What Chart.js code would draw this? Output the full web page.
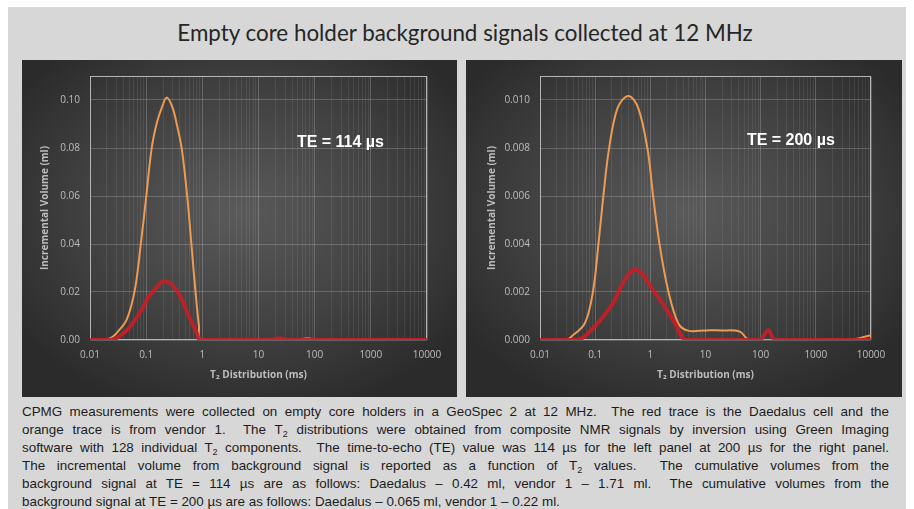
<!DOCTYPE html>
<html>
<head>
<meta charset="utf-8">
<script src="https://cdn.jsdelivr.net/npm/chart.js"></script>
<style>
  html, body { margin: 0; padding: 0; background: #fff; }
  body { width: 914px; height: 509px; position: relative; overflow: hidden; }
  #slide { position: absolute; left: 8px; top: 7px; width: 898px; height: 502px; background: #d7d7d7; }
  #title { position: absolute; left: 0; top: 20px; width: 930px; text-align: center; white-space: nowrap;
           font-family: Lato, sans-serif; font-size: 22.4px; line-height: 26px; color: #262626; }
  .panel { position: absolute; top: 60px; height: 337px;
           background: radial-gradient(ellipse 62% 62% at 50% 45%, #5a5a5a 0%, #424242 55%, #2b2b2b 100%); }
  #leftPanel { left: 22px; width: 435px; }
  #rightPanel { left: 466px; width: 436px; }
  #caption { position: absolute; left: 22px; top: 403px; width: 867px;
             font-family: "Liberation Sans", Arial, sans-serif; font-size: 13.4px; line-height: 18px; color: #1c1c1c; }
  #caption div { text-align: justify; text-align-last: justify; }
  #caption div.last { text-align-last: left; }
  #caption sub { font-size: 9px; vertical-align: -3px; line-height: 0; }
</style>
</head>
<body>
<div id="slide"></div>
<div id="title">Empty core holder background signals collected at 12 MHz</div>
<div class="panel" id="leftPanel"><canvas id="leftChart" width="435" height="337"></canvas></div>
<div class="panel" id="rightPanel"><canvas id="rightChart" width="436" height="337"></canvas></div>
<div id="caption">
  <div>CPMG measurements were collected on empty core holders in a GeoSpec 2 at 12 MHz.&nbsp; The red trace is the Daedalus cell and the</div>
  <div>orange trace is from vendor 1.&nbsp; The T<sub>2</sub> distributions were obtained from composite NMR signals by inversion using Green Imaging</div>
  <div>software with 128 individual T<sub>2</sub> components.&nbsp; The time-to-echo (TE) value was 114 µs for the left panel at 200 µs for the right panel.</div>
  <div>The incremental volume from background signal is reported as a function of T<sub>2</sub> values.&nbsp; The cumulative volumes from the</div>
  <div>background signal at TE = 114 µs are as follows: Daedalus – 0.42 ml, vendor 1 – 1.71 ml.&nbsp; The cumulative volumes from the</div>
  <div class="last">background signal at TE = 200 µs are as follows: Daedalus – 0.065 ml, vendor 1 – 0.22 ml.</div>
</div>
<script>
// T2 axis decades (labelled ticks)
var t2Ticks = [0.01, 0.1, 1, 10, 100, 1000, 10000];

// TE = 114 us panel
var leftRedT2 = [0.01, 0.023, 0.03, 0.045, 0.063, 0.085, 0.11, 0.155, 0.2, 0.26, 0.33, 0.42, 0.53, 0.66, 0.8, 0.92, 16, 24, 34, 10000];
var leftRedVol = [0, 0, 0.0008, 0.004, 0.0083, 0.013, 0.018, 0.022, 0.0245, 0.0238, 0.0215, 0.0175, 0.012, 0.007, 0.0028, 0, 0, 0.0007, 0, 0];
var leftOrangeT2 = [0.01, 0.018, 0.024, 0.03, 0.045, 0.063, 0.08, 0.1, 0.125, 0.155, 0.19, 0.232, 0.295, 0.35, 0.43, 0.54, 0.64, 0.75, 0.87, 0.97, 50, 68, 82, 100, 10000];
var leftOrangeVol = [0, 0, 0.001, 0.003, 0.0085, 0.021, 0.0397, 0.0595, 0.0797, 0.0905, 0.0968, 0.101, 0.0968, 0.09, 0.0797, 0.0595, 0.0397, 0.021, 0.006, 0, 0, 0.0006, 0.0006, 0, 0];

// TE = 200 us panel
var rightRedT2 = [0.01, 0.04, 0.06, 0.11, 0.21, 0.34, 0.525, 0.8, 1.1, 1.7, 2.8, 4.5, 95, 137, 185, 10000];
var rightRedVol = [0, 0, 0.0001, 0.00069, 0.00153, 0.00249, 0.00295, 0.0026, 0.0021, 0.0015, 0.0007, 0, 0, 0.00041, 0, 0];
var rightOrangeT2 = [0.01, 0.03, 0.037, 0.065, 0.092, 0.114, 0.14, 0.178, 0.256, 0.4, 0.6, 0.89, 1.13, 1.48, 2.1, 3.2, 4.8, 10, 20, 42, 63, 3800, 10000];
var rightOrangeVol = [0, 0, 0.00014, 0.0007, 0.00207, 0.00394, 0.00595, 0.00795, 0.00968, 0.01017, 0.00968, 0.00795, 0.00595, 0.00394, 0.00207, 0.0007, 0.00039, 0.0004, 0.0004, 0.00035, 0, 0, 0.0002];

Chart.defaults.font.family = '"Open Sans", sans-serif';
Chart.defaults.color = '#bdbdbd';

function toPoints(xs, ys) {
  return xs.map(function (x, i) {
    return { x: x, y: ys[i] };
  });
}

// plot frame + TE label
var panelDecor = {
  id: 'panelDecor',
  beforeDatasetsDraw: function (chart) {
    var a = chart.chartArea;
    var ctx = chart.ctx;
    ctx.save();
    ctx.strokeStyle = '#b5b5b5';
    ctx.lineWidth = 1;
    ctx.strokeRect(a.left + 0.5, a.top + 0.5, a.width - 1, a.height - 1);
    ctx.restore();
  },
  afterDraw: function (chart, args, opts) {
    var a = chart.chartArea;
    var ctx = chart.ctx;
    ctx.save();
    ctx.fillStyle = '#ffffff';
    ctx.font = 'bold 16px "Liberation Sans", Arial';
    ctx.textBaseline = 'middle';
    ctx.fillText(opts.text, a.left + a.width * opts.fx, a.top + a.height * opts.fy);
    ctx.restore();
  }
};

function createT2Chart(context, cfg) {
  new Chart(context, {
    type: 'line',
    plugins: [panelDecor],
    data: {
      datasets: [{
        label: 'Daedalus',
        data: toPoints(cfg.redT2, cfg.redVol),
        borderColor: 'rgba(198, 30, 38, 0.92)',
        borderWidth: 4,
        pointRadius: 0,
        tension: 0.35,
      }, {
        label: 'Vendor 1',
        data: toPoints(cfg.orangeT2, cfg.orangeVol),
        borderColor: '#ee9a52',
        borderWidth: 2,
        pointRadius: 0,
        tension: 0.35,
      }],
    },
    options: {
      responsive: false,
      animation: false,
      layout: { padding: { top: 15, right: cfg.padRight, bottom: 10, left: 0 } },
      plugins: {
        legend: { display: false },
        tooltip: { enabled: false },
        panelDecor: { text: cfg.teText, fx: cfg.fx, fy: cfg.fy },
      },
      scales: {
        x: {
          type: 'logarithmic',
          min: 0.01,
          max: 10000,
          afterBuildTicks: function (scale) {
            var vals = [];
            t2Ticks.forEach(function (d, i) {
              vals.push(d);
              if (i < t2Ticks.length - 1) {
                for (var k = 2; k < 10; k++) vals.push(+(d * k).toPrecision(3));
              }
            });
            scale.ticks = vals.map(function (v) { return { value: v }; });
          },
          afterFit: function (scale) { scale.height = 47; },
          grid: {
            drawTicks: false,
            color: function (c) {
              return t2Ticks.indexOf(c.tick.value) >= 0 ? 'rgba(255,255,255,0.2)' : 'rgba(255,255,255,0.08)';
            },
          },
          border: { display: false },
          ticks: {
            autoSkip: false,
            maxRotation: 0,
            padding: 9,
            font: { size: 10 },
            callback: function (value) {
              return t2Ticks.indexOf(value) >= 0 ? String(value) : '';
            },
          },
          title: {
            display: true,
            text: 'T₂ Distribution (ms)',
            font: { size: 10, weight: 'bold' },
            padding: { top: 4, bottom: 6 },
          },
        },
        y: {
          min: 0,
          max: cfg.yMax,
          afterFit: function (scale) { scale.width = cfg.yWidth; },
          grid: { drawTicks: false, color: 'rgba(255,255,255,0.2)' },
          border: { display: false },
          ticks: {
            stepSize: cfg.yStep,
            includeBounds: false,
            padding: 10,
            font: { size: 10 },
            callback: function (value) { return value.toFixed(cfg.digits); },
          },
          title: {
            display: true,
            text: 'Incremental Volume (ml)',
            font: { size: 10, weight: 'bold' },
            padding: { top: cfg.titlePad, bottom: 2 },
          },
        },
      },
    },
  });
}

createT2Chart(document.getElementById('leftChart'), {
  redT2: leftRedT2, redVol: leftRedVol,
  orangeT2: leftOrangeT2, orangeVol: leftOrangeVol,
  yMax: 0.11, yStep: 0.02, digits: 2,
  yWidth: 68, titlePad: 17, padRight: 30,
  teText: 'TE = 114 µs', fx: 0.614, fy: 0.253,
});

createT2Chart(document.getElementById('rightChart'), {
  redT2: rightRedT2, redVol: rightRedVol,
  orangeT2: rightOrangeT2, orangeVol: rightOrangeVol,
  yMax: 0.011, yStep: 0.002, digits: 3,
  yWidth: 74, titlePad: 20, padRight: 31,
  teText: 'TE = 200 µs', fx: 0.625, fy: 0.245,
});
</script>
</body>
</html>
